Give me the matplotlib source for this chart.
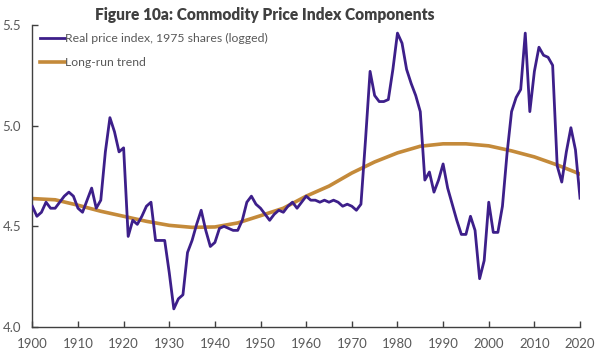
import matplotlib.pyplot as plt

# Real price index, 1975 shares (logged), 1900-2020
years = list(range(1900, 2021))
real_index = [
    4.60, 4.55, 4.57, 4.62, 4.59, 4.59, 4.62, 4.65, 4.67, 4.65,  # 1900s
    4.59, 4.57, 4.63, 4.69, 4.59, 4.63, 4.87, 5.04, 4.97, 4.87,  # 1910s
    4.89, 4.45, 4.53, 4.51, 4.55, 4.60, 4.62, 4.43, 4.43, 4.43,  # 1920s
    4.27, 4.09, 4.14, 4.16, 4.37, 4.43, 4.51, 4.58, 4.48, 4.40,  # 1930s
    4.42, 4.49, 4.50, 4.49, 4.48, 4.48, 4.53, 4.62, 4.65, 4.61,  # 1940s
    4.59, 4.56, 4.53, 4.56, 4.58, 4.57, 4.60, 4.62, 4.59, 4.62,  # 1950s
    4.65, 4.63, 4.63, 4.62, 4.63, 4.62, 4.63, 4.62, 4.60, 4.61,  # 1960s
    4.60, 4.58, 4.61, 4.93, 5.27, 5.15, 5.12, 5.12, 5.13, 5.28,  # 1970s
    5.46, 5.41, 5.28, 5.21, 5.15, 5.07, 4.73, 4.77, 4.67, 4.73,  # 1980s
    4.81, 4.69, 4.61, 4.53, 4.46, 4.46, 4.55, 4.48, 4.24, 4.33,  # 1990s
    4.62, 4.47, 4.47, 4.60, 4.86, 5.07, 5.14, 5.18, 5.46, 5.07,  # 2000s
    5.27, 5.39, 5.35, 5.34, 5.30, 4.80, 4.72, 4.87, 4.99, 4.88,  # 2010s
    4.64,
]

# Long-run trend, read every five years
trend_years = list(range(1900, 2021, 5))
trend = [
    4.638, 4.632, 4.605, 4.575, 4.550, 4.525, 4.505, 4.495, 4.497,
    4.517, 4.553, 4.590, 4.650, 4.700, 4.765, 4.820, 4.865, 4.898,
    4.910, 4.910, 4.900, 4.875, 4.845, 4.805, 4.760,
]

x_ticks = list(range(1900, 2021, 10))
y_ticks = [4.0, 4.5, 5.0, 5.5]

purple = "#3d1f8a"
gold = "#c48a3a"
grey = "#595959"

plt.rcParams["font.family"] = ["Lato", "DejaVu Sans"]

fig = plt.figure(figsize=(6.02, 3.58), dpi=100)
ax = fig.add_axes([0.0537, 0.0866, 0.9098, 0.8434])

ax.plot(years, real_index, color=purple, lw=2.0,
        label="Real price index, 1975 shares (logged)", zorder=3)
ax.plot(trend_years, trend, color=gold, lw=2.6, label="Long-run trend", zorder=2)

ax.set_xlim(1900, 2020)
ax.set_ylim(4.0, 5.5)
ax.set_xticks(x_ticks)
ax.set_yticks(y_ticks)
ax.set_yticklabels([f"{v:.1f}" for v in y_ticks])

for side in ("top", "right"):
    ax.spines[side].set_visible(False)
for side in ("left", "bottom"):
    ax.spines[side].set_color("#404040")
    ax.spines[side].set_linewidth(1.0)

ax.tick_params(axis="both", direction="in", length=4, width=1.0,
               color="#404040", labelcolor=grey, labelsize=9.5)
ax.tick_params(axis="x", pad=8)
ax.tick_params(axis="y", pad=8)

leg = ax.legend(loc="upper left", bbox_to_anchor=(0.0, 1.0), frameon=False,
                handlelength=2.0, handletextpad=0.05, fontsize=8.8,
                labelspacing=1.05, borderaxespad=0.25)
for t in leg.get_texts():
    t.set_color(grey)

fig.text(264.5 / 602, 1 - 15 / 358, "Figure 10a: Commodity Price Index Components",
         ha="center", va="center", fontsize=11.2, fontweight="heavy", color="#404040")

fig.savefig("out.png", dpi=100)
